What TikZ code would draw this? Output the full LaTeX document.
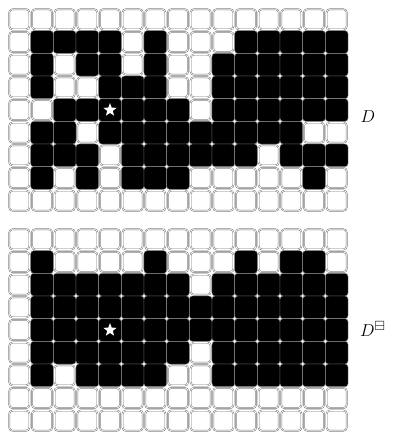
\documentclass[tikz,border=0pt]{standalone}
\usepackage{amssymb}
\usetikzlibrary{shapes.geometric}
\begin{document}
\begin{tikzpicture}[x=1pt,y=-1pt,
  whitecell/.style={draw=black!55,double=white,double distance=0.7pt,line width=0.5pt,rounded corners=3.5pt},
  blackcell/.style={fill=black,draw=black!45,line width=0.4pt,rounded corners=3pt},
  starmark/.style={star,star points=5,star point ratio=2.4,fill=white,draw=none,minimum size=14pt,inner sep=0pt},
  lbl/.style={font=\fontsize{19}{22}\selectfont,inner sep=0pt}]
\useasboundingbox (0,0) rectangle (393,436);
\def\s{22.667}
% white grids
\foreach \oy in {8,228}{
  \foreach \r in {0,...,8}{
    \foreach \c in {0,...,14}{
      \draw[whitecell] ({8+\c*\s+1.2},{\oy+\r*\s+1.2}) rectangle ({8+(\c+1)*\s-1.2},{\oy+(\r+1)*\s-1.2});
    }
  }
}
% top grid D
\foreach \r/\cl in {1/{1,2,3,4,6,10,11,12,13,14},
                    2/{1,3,4,6,9,10,11,12,13,14},
                    3/{1,4,5,6,9,10,11,12,13,14},
                    4/{2,3,4,5,6,7,9,10,11,12,13,14},
                    5/{1,2,4,5,6,7,8,9,10,11,12},
                    6/{1,2,3,5,6,7,8,9,10,12,13,14},
                    7/{1,3,5,6,7,13}}{
  \foreach \c in \cl{
    \draw[blackcell] ({8+\c*\s},{8+\r*\s}) rectangle ({8+(\c+1)*\s},{8+(\r+1)*\s});
  }
}
% bottom grid
\foreach \r/\cl in {1/{1,6,10,12,13},
                    2/{1,2,3,4,5,6,7,9,10,11,12,13,14},
                    3/{1,2,3,4,5,6,7,8,9,10,11,12,13,14},
                    4/{1,2,3,4,5,6,7,8,9,10,11,12,13,14},
                    5/{1,2,3,4,5,6,7,9,10,11,12,13,14},
                    6/{1,3,4,5,6,9,10,11,12,13,14}}{
  \foreach \c in \cl{
    \draw[blackcell] ({8+\c*\s},{228+\r*\s}) rectangle ({8+(\c+1)*\s},{228+(\r+1)*\s});
  }
}
\node[starmark] (star1) at ({8+4.5*\s},{8+4.5*\s}) {};
\node[starmark] (star2) at ({8+4.5*\s},{228+4.5*\s}) {};
\node[lbl] (labD) at (368,117) {$D$};
\node[lbl,anchor=west] (labDb) at (360,329) {$D^{\boxminus}$};
\end{tikzpicture}
\end{document}
